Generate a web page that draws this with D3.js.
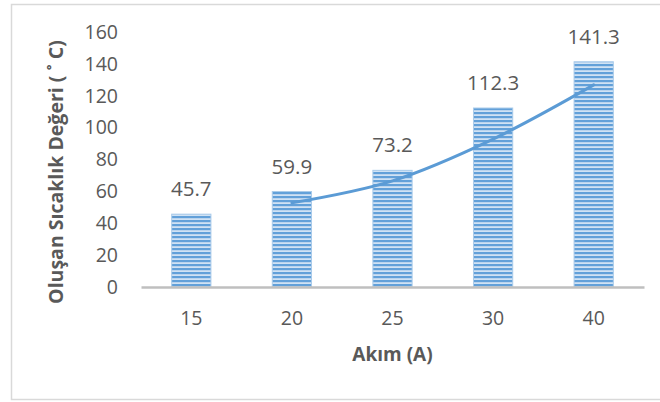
<!DOCTYPE html>
<html>
<head>
<meta charset="utf-8">
<script src="https://cdn.jsdelivr.net/npm/d3@7"></script>
<style>
  body { margin: 0; background: #fff; }
  text { font-family: "Open Sans", "Noto Sans", sans-serif; fill: #595959; }
</style>
</head>
<body>
<div id="chart"></div>
<script>
(function () {
  const categories = ['15', '20', '25', '30', '40'];
  const values = [45.7, 59.9, 73.2, 112.3, 141.3];
  // 2-period moving average trend line
  const trendCats = ['20', '25', '30', '40'];
  const trendValues = [52.8, 66.6, 92.8, 126.8];
  const yTicks = [0, 20, 40, 60, 80, 100, 120, 140, 160];

  const w = 660;
  const h = 402;
  const left = 141, right = 644, top = 32, bottom = 287;

  const svg = d3.select('#chart')
    .append('svg')
    .attr('width', w)
    .attr('height', h);

  const defs = svg.append('defs');
  const pat = defs.append('pattern')
    .attr('id', 'stripes')
    .attr('patternUnits', 'userSpaceOnUse')
    .attr('width', 8)
    .attr('height', 4);
  pat.append('rect').attr('width', 8).attr('height', 4).attr('fill', '#d0e2f4');
  pat.append('rect').attr('y', 0).attr('width', 8).attr('height', 2.2).attr('fill', '#62a0d9');

  // outer frame
  svg.append('rect')
    .attr('x', 11.5).attr('y', 4.5)
    .attr('width', 660).attr('height', 395)
    .attr('fill', 'none')
    .attr('stroke', '#d9d9d9')
    .attr('stroke-width', 1.5);

  const xScale = d3.scaleBand()
    .domain(categories)
    .range([left, right])
    .paddingInner(0.61)
    .paddingOuter(0.305);

  const yScale = d3.scaleLinear()
    .domain([0, 160])
    .range([bottom, top]);

  // y tick labels
  const yAxis = d3.axisLeft(yScale).tickValues(yTicks).tickSize(0).tickPadding(0);
  const gy = svg.append('g')
    .attr('transform', 'translate(118,0)')
    .call(yAxis);
  gy.select('.domain').remove();
  gy.selectAll('text')
    .style('font-family', '"Open Sans", sans-serif')
    .style('font-size', '19.5px')
    .attr('fill', '#595959');

  // bars
  svg.selectAll('rect.bar')
    .data(values)
    .enter()
    .append('rect')
    .attr('class', 'bar')
    .attr('x', (d, i) => xScale(categories[i]))
    .attr('y', (d) => yScale(d))
    .attr('width', xScale.bandwidth())
    .attr('height', (d) => bottom - yScale(d))
    .attr('fill', 'url(#stripes)')
    .attr('stroke', '#a9cbea')
    .attr('stroke-width', 1);

  // x axis
  const xAxis = d3.axisBottom(xScale).tickSize(0).tickPadding(24);
  const gx = svg.append('g')
    .attr('transform', 'translate(0,' + bottom + ')')
    .call(xAxis);
  gx.select('.domain').attr('stroke', '#bfbfbf').attr('stroke-width', 2.5);
  gx.selectAll('text')
    .style('font-family', '"Open Sans", sans-serif')
    .style('font-size', '19.5px')
    .attr('fill', '#595959');

  // trend line
  const line = d3.line()
    .x((d, i) => xScale(trendCats[i]) + xScale.bandwidth() / 2)
    .y((d) => yScale(d))
    .curve(d3.curveCatmullRom.alpha(0.5));
  svg.append('path')
    .datum(trendValues)
    .attr('d', line)
    .attr('fill', 'none')
    .attr('stroke', '#5b9bd5')
    .attr('stroke-width', 3)
    .attr('stroke-linecap', 'round');

  // data labels
  svg.selectAll('text.lbl')
    .data(values)
    .enter()
    .append('text')
    .attr('class', 'lbl')
    .attr('x', (d, i) => xScale(categories[i]) + xScale.bandwidth() / 2)
    .attr('y', (d) => yScale(d) - 18)
    .attr('text-anchor', 'middle')
    .style('font-size', '20.5px')
    .attr('fill', '#404040')
    .text((d) => d.toFixed(1));

  // axis titles
  svg.append('text')
    .attr('x', (left + right) / 2)
    .attr('y', 361)
    .attr('text-anchor', 'middle')
    .style('font-size', '19px')
    .style('font-weight', 'bold')
    .text('Akım (A)');

  svg.append('text')
    .attr('transform', 'translate(63,172) rotate(-90)')
    .attr('text-anchor', 'middle')
    .style('font-size', '19.5px')
    .style('font-weight', 'bold')
    .text('Oluşan Sıcaklık Değeri  ( ˚ C)');
})();
</script>
</body>
</html>
